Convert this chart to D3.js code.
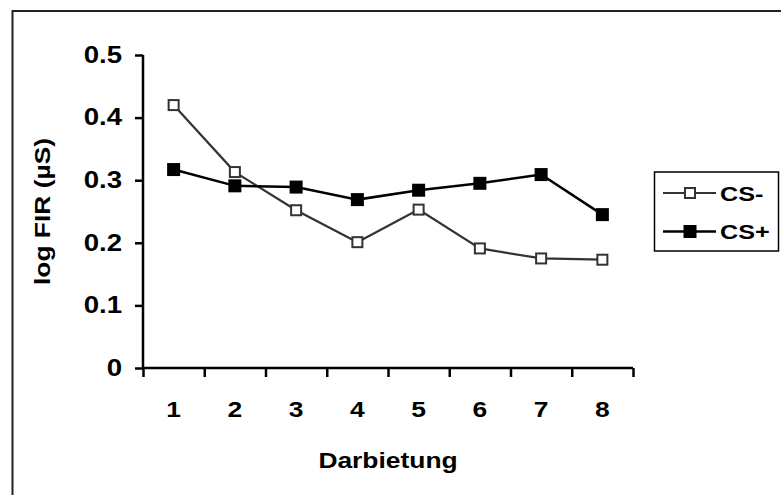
<!DOCTYPE html>
<head>
    <title>log FIR</title>
    <script src="https://d3js.org/d3.v7.min.js"></script>
    <style>
        body { margin: 0; background: #fff; }
        .lbl { font-family: "Liberation Sans", Arial, sans-serif; font-weight: bold; fill: #000; }
    </style>
</head>
<body>
    <svg id="chart" width="781" height="495"></svg>
    <script>
        // data
        var categories = ["1", "2", "3", "4", "5", "6", "7", "8"];
        var csMinus = [0.420, 0.313, 0.252, 0.201, 0.253, 0.191, 0.175, 0.173];
        var csPlus = [0.317, 0.291, 0.289, 0.269, 0.284, 0.295, 0.309, 0.245];
        var yTicks = [0, 0.1, 0.2, 0.3, 0.4, 0.5];

        var svg = d3.select("#chart");
        var stretchX = 1.2; // the text in the original is a bit wide

        // widen text horizontally, keeping its anchor point in place
        function widen(sel, k) {
            sel.each(function () {
                var t = d3.select(this);
                var x0 = +t.attr("x") || 0;
                t.attr("x", x0 / k).attr("transform", "scale(" + k + ",1)");
            });
        }

        // outer frame (runs off the right and bottom of the picture)
        svg.append("rect")
            .attr("x", 12.5).attr("y", 11)
            .attr("width", 900).attr("height", 600)
            .attr("fill", "none").attr("stroke", "#222").attr("stroke-width", 2);

        var plotLeft = 143, plotRight = 633, plotTop = 55, plotBottom = 368;

        var x = d3.scaleBand().domain(categories).range([plotLeft, plotRight]).padding(0);
        var xEdge = d3.scaleLinear().domain([0, categories.length]).range([plotLeft, plotRight]);
        var y = d3.scaleLinear().domain([0, 0.5]).range([plotBottom, plotTop]);

        // y axis
        var yAxis = svg.append("g")
            .attr("transform", "translate(" + plotLeft + ",0)")
            .call(d3.axisLeft(y).tickValues(yTicks).tickSize(8).tickPadding(13)
                .tickFormat(function (d) { return d === 0 ? "0" : d3.format(".1f")(d); }));
        yAxis.select(".domain").attr("stroke", "#000").attr("stroke-width", 2.5)
            .attr("d", "M0," + plotTop + "V" + plotBottom);
        yAxis.selectAll(".tick line").attr("stroke-width", 2.5);
        yAxis.selectAll("text").attr("class", "lbl").style("font-size", "23px").call(widen, stretchX);

        // x axis: tick marks at category boundaries
        var xTickAxis = svg.append("g")
            .attr("transform", "translate(0," + plotBottom + ")")
            .call(d3.axisBottom(xEdge).ticks(8).tickSize(9).tickFormat(""));
        xTickAxis.select(".domain").attr("stroke", "#000").attr("stroke-width", 2.5)
            .attr("d", "M" + plotLeft + ",0H" + plotRight);
        xTickAxis.selectAll(".tick line").attr("stroke-width", 2.5);

        // x axis: labels at category centres
        var xLabelAxis = svg.append("g")
            .attr("transform", "translate(0," + plotBottom + ")")
            .call(d3.axisBottom(x).tickSize(0).tickPadding(33));
        xLabelAxis.select(".domain").remove();
        xLabelAxis.selectAll("text").attr("class", "lbl").style("font-size", "22px").call(widen, stretchX);

        // axis titles
        svg.append("text").attr("class", "lbl")
            .attr("transform", "translate(" + (plotLeft + plotRight) / 2 + ",468) scale(" + stretchX + ",1)")
            .attr("text-anchor", "middle").style("font-size", "22px")
            .text("Darbietung");
        svg.append("text").attr("class", "lbl")
            .attr("transform", "translate(50," + (plotTop + plotBottom) / 2 + ") rotate(-90) scale(" + stretchX + ",1)")
            .attr("text-anchor", "middle").style("font-size", "22px")
            .text("log FIR (µS)");

        var line = d3.line()
            .x(function (d, i) { return x(categories[i]) + x.bandwidth() / 2; })
            .y(function (d) { return y(d); });

        var series = [
            { name: "CS-", values: csMinus, color: "#333", width: 2.2, fill: "#fff", size: 10 },
            { name: "CS+", values: csPlus, color: "#000", width: 2.5, fill: "#000", size: 11 }
        ];

        series.forEach(function (s) {
            svg.append("path").datum(s.values)
                .attr("d", line)
                .attr("fill", "none").attr("stroke", s.color).attr("stroke-width", s.width);
            svg.selectAll(null).data(s.values).enter().append("rect")
                .attr("x", function (d, i) { return x(categories[i]) + x.bandwidth() / 2 - s.size / 2; })
                .attr("y", function (d) { return y(d) - s.size / 2; })
                .attr("width", s.size).attr("height", s.size)
                .attr("fill", s.fill).attr("stroke", s.color).attr("stroke-width", 2);
        });

        // legend
        var legend = svg.append("g");
        legend.append("rect")
            .attr("x", 654.5).attr("y", 172)
            .attr("width", 124).attr("height", 79)
            .attr("fill", "#fff").attr("stroke", "#000").attr("stroke-width", 1.5);
        series.forEach(function (s, i) {
            var ly = 193 + i * 38.5;
            legend.append("line")
                .attr("x1", 663).attr("x2", 716).attr("y1", ly).attr("y2", ly)
                .attr("stroke", s.color).attr("stroke-width", s.width);
            legend.append("rect")
                .attr("x", 690 - s.size / 2).attr("y", ly - s.size / 2)
                .attr("width", s.size).attr("height", s.size)
                .attr("fill", s.fill).attr("stroke", s.color).attr("stroke-width", 2);
            legend.append("text").attr("class", "lbl")
                .attr("transform", "translate(720," + ly + ") scale(" + stretchX + ",1)")
                .attr("dy", "0.36em")
                .style("font-size", "21px")
                .text(s.name);
        });
    </script>
</body>
